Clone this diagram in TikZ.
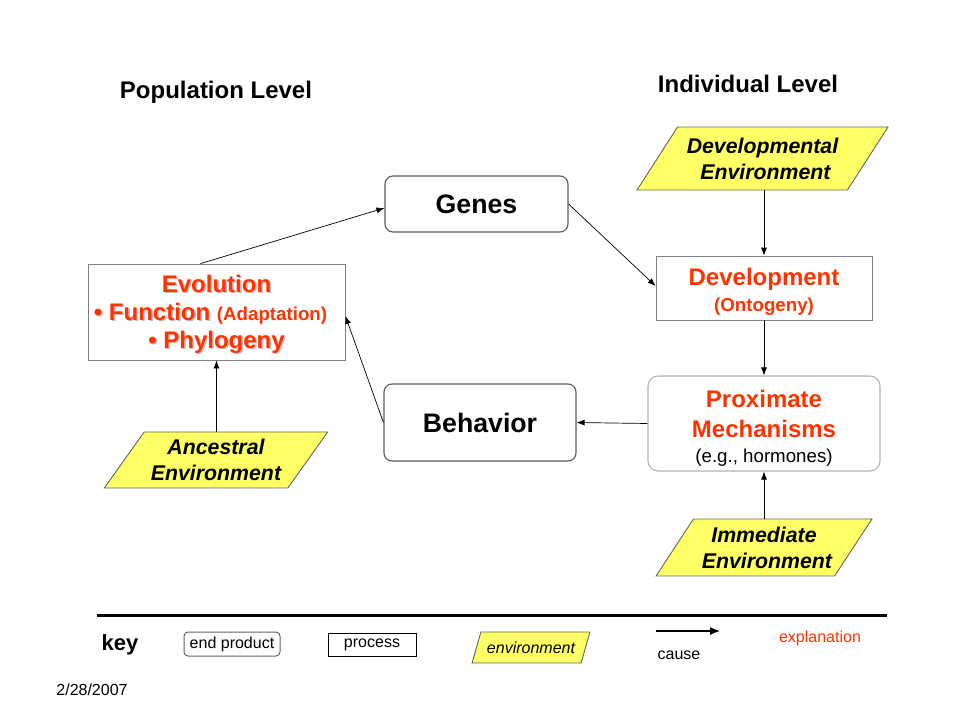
\documentclass[tikz,border=0pt]{standalone}
\usepackage{fontspec}
\setmainfont{Liberation Sans}
\usetikzlibrary{positioning,arrows.meta,shapes.geometric}

\definecolor{expl}{RGB}{255,51,0}
\definecolor{envyellow}{RGB}{255,255,102}
\definecolor{envgray}{RGB}{100,100,100}
\definecolor{boxgray}{RGB}{128,128,128}
\definecolor{roundgray}{RGB}{90,90,90}
\definecolor{softgray}{RGB}{180,180,180}
\definecolor{shadowgray}{RGB}{190,190,190}

\newcommand{\fsz}[2]{\fontsize{#1}{#2}\selectfont}
\newcommand{\shadowed}[1]{\makebox[0pt][l]{\kern1.6pt\raisebox{-1.6pt}{\color{shadowgray}#1}}#1}

\tikzset{
  endprod/.style={draw=roundgray, line width=1.1pt, rounded corners=8pt, align=center},
  procbox/.style={draw=boxgray, line width=0.8pt, align=center, text=expl},
  proxbox/.style={draw=softgray, line width=1.1pt, rounded corners=10pt, align=center, text=expl},
  envbox/.style={trapezium, trapezium left angle=50, trapezium right angle=130,
    trapezium stretches=true, draw=envgray, line width=0.9pt, fill=envyellow,
    inner sep=1pt, align=center, font=\fsz{21.3}{26}\bfseries\itshape},
  conn/.style={-{Latex[length=8pt,width=6pt]}, line width=0.7pt},
}

\begin{document}
\begin{tikzpicture}[x=1pt,y=-1pt]
    \useasboundingbox[fill=white] (0,0) rectangle (960,720);

    % level titles
    \node[font=\fsz{24}{28}\bfseries] (poplevel) at (216,92)  {Population Level};
    \node[font=\fsz{24}{28}\bfseries] (indlevel) at (748,84)  {Individual Level};

    % end products
    \node[endprod, minimum width=183pt, minimum height=56pt, font=\fsz{26.7}{32}\bfseries]
        (genes)    at (476.5,204) {Genes};
    \node[endprod, minimum width=192pt, minimum height=77pt, font=\fsz{26.7}{32}\bfseries]
        (behavior) at (480,422.5) {Behavior};

    % processes
    \node[procbox, minimum width=257pt, minimum height=96pt, inner xsep=2pt,
          font=\fsz{24}{28}\bfseries]
        (evolution) at (216.5,312)
        {\rule{0pt}{23pt}\shadowed{Evolution}\\
         \shadowed{\textbullet{} Function} {\fsz{18.7}{22}(Adaptation)}\kern12pt\\
         \shadowed{\textbullet{} Phylogeny}};
    \node[procbox, minimum width=216pt, minimum height=64pt, font=\fsz{24}{29}\bfseries]
        (development) at (764,288)
        {\rule{0pt}{25pt}Development\\[-3pt]{\fsz{18.7}{22}(Ontogeny)}};
    \node[proxbox, minimum width=232pt, minimum height=95pt, font=\fsz{24}{30}\bfseries]
        (proximate) at (764,423.5)
        {\rule{0pt}{27pt}Proximate\\Mechanisms\\[-5pt]{\fsz{18.7}{22}\mdseries\color{black}(e.g., hormones)}};

    % environments
    \node[envbox, minimum width=251pt, minimum height=63pt] (devenv) at (762.5,158.5)
        {Developmental\\\ Environment};
    \node[envbox, minimum width=224pt, minimum height=56pt] (ancenv) at (216,460)
        {Ancestral\\Environment};
    \node[envbox, minimum width=216pt, minimum height=57pt] (immenv) at (764,547.5)
        {Immediate\\\ Environment};

    % causes
    \draw[conn] ([xshift=-16pt]evolution.north) -- ([yshift=-4pt]genes.west);
    \draw[conn] (genes.east) -- ([yshift=2pt]development.west);
    \draw[conn] (devenv.south -| development.north) -- (development.north);
    \draw[conn] (development.south) -- (proximate.north);
    \draw[conn] (immenv.north -| proximate.south) -- (proximate.south);
    \draw[conn] (proximate.west) -- (behavior.east);
    \draw[conn] (behavior.west) -- ([yshift=-4pt]evolution.east);
    \draw[conn] (ancenv.north -| evolution.south) -- (evolution.south);

    % key
    \draw[line width=3pt] (97,615) -- (887,615);
    \node[font=\fsz{22}{26}\bfseries] (key) at (120,645) {key};
    \node[endprod, draw=envgray, line width=1pt, rounded corners=4pt, minimum width=96pt,
          minimum height=24pt, font=\fsz{16}{19}] (keyend) at (232,644) {end product};
    \node[draw, line width=0.8pt, minimum width=88pt, minimum height=23pt,
          font=\fsz{16}{19}] (keyproc) at (372,644.5) {process};
    \node[envbox, trapezium left angle=60, trapezium right angle=120, minimum width=118pt,
          minimum height=31pt, font=\fsz{16}{19}\itshape] (keyenv) at (531,647.5) {environment};
    \coordinate (causefrom) at (656,631);
    \coordinate (causeto)   at (720,631);
    \draw[-{Latex[length=10pt,width=8pt]}, line width=1.3pt] (causefrom) -- (causeto);
    \node[font=\fsz{16}{19}] (cause) at (679,655) {cause};
    \node[font=\fsz{16}{19}, text=expl] (explain) at (820,638) {explanation};

    \node[font=\fsz{16}{19}] (date) at (92,690) {2/28/2007};
\end{tikzpicture}
\end{document}
